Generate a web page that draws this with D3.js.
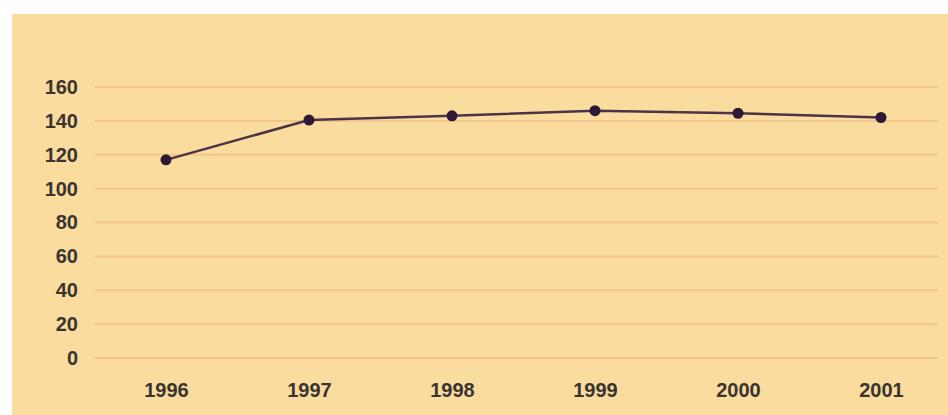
<!DOCTYPE html>
<html><head><meta charset="utf-8">
<script src="https://cdn.jsdelivr.net/npm/d3@7"></script>
<style>body{margin:0;background:#fff;}svg{display:block;}</style>
</head><body>
<script>
const years = ["1996","1997","1998","1999","2000","2001"];
const values = [117, 140.5, 143, 146, 144.5, 142];
const yTicks = [0,20,40,60,80,100,120,140,160];

const W = 948, H = 415;
const svg = d3.select("body").append("svg").attr("width", W).attr("height", H);
svg.append("rect").attr("x",12).attr("y",14).attr("width",W-12).attr("height",H-14).attr("fill","#fadc9e");

const x = d3.scalePoint().domain(years).range([166, 881]);
const y = d3.scaleLinear().domain([0,160]).range([358, 87]);

// gridlines
svg.append("g").selectAll("line").data(yTicks).join("line")
  .attr("x1", 95).attr("x2", 938)
  .attr("y1", d=>y(d)).attr("y2", d=>y(d))
  .attr("stroke", "#f2c68c").attr("stroke-width", 2);

const fontFam = "Liberation Sans, Arial, sans-serif";
// y axis
const ya = d3.axisLeft(y).tickValues(yTicks).tickSize(0).tickPadding(0);
const gy = svg.append("g").attr("transform","translate(78,0)").call(ya);
gy.select(".domain").remove();
gy.selectAll("text").attr("font-family",fontFam).attr("font-size",20).attr("font-weight","bold").attr("fill","#3a3430");

// x axis
const xa = d3.axisBottom(x).tickSize(0).tickPadding(0);
const gx = svg.append("g").attr("transform","translate(0,383)").call(xa);
gx.select(".domain").remove();
gx.selectAll("text").attr("font-family",fontFam).attr("font-size",20).attr("font-weight","bold").attr("fill","#3a3430");

const data = years.map((yr,i)=>({yr, v: values[i]}));
svg.append("path").datum(data)
  .attr("d", d3.line().x(d=>x(d.yr)).y(d=>y(d.v)))
  .attr("fill","none").attr("stroke","#4d3346").attr("stroke-width",2.5);
svg.append("g").selectAll("circle").data(data).join("circle")
  .attr("cx", d=>x(d.yr)).attr("cy", d=>y(d.v)).attr("r", 5.5)
  .attr("fill","#2e1a36");
</script>
</body></html>
